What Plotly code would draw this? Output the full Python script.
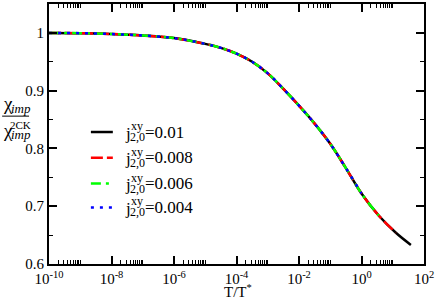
import plotly.graph_objects as go

# data (log10 of T/T*, chi_imp / chi_imp^2CK)
log_t = [-10, -9, -8, -7, -6, -5, -4.5, -4, -3.5, -3, -2.5, -2, -1.5, -1, -0.5, 0, 0.55, 1.1, 1.58]
chi_ratio = [1.000, 0.9995, 0.998, 0.9955, 0.991, 0.981, 0.974, 0.964, 0.950, 0.930,
             0.903, 0.874, 0.843, 0.808, 0.766, 0.722, 0.684, 0.654, 0.633]
couplings = ["0.01", "0.008", "0.006", "0.004"]
last_log_t = [1.58, 1.1, 0.55, 0]   # each run stops at a different T/T*

x_major = [1e-10, 1e-8, 1e-6, 1e-4, 1e-2, 1e0, 1e2]
x_labels = ["10<sup>-10</sup>", "10<sup>-8</sup>", "10<sup>-6</sup>", "10<sup>-4</sup>",
            "10<sup>-2</sup>", "10<sup>0</sup>", "10<sup>2</sup>"]
y_major = [0.6, 0.7, 0.8, 0.9, 1.0]
y_labels = ["0.6", "0.7", "0.8", "0.9", "1"]

colors = ["#000000", "#ff0000", "#00ff00", "#0000ff"]
dashes = ["solid", "12px,4px", "10px,5px,3px,5px", "3px,6px"]

W, H = 436, 300
L, R, T, B = 49, 11, 2, 36
PW, PH = W - L - R, H - T - B
SERIF = "Liberation Serif"


def px(x):
    return (x - L) / PW


def py(y):
    return (H - B - y) / PH


def txt(x, y, s, size, anchor="center"):
    return dict(x=px(x), y=py(y), xref="paper", yref="paper", text=s, showarrow=False,
                xanchor=anchor, yanchor="middle",
                font=dict(family=SERIF, size=size, color="black"))


fig = go.Figure()
for c, lt_end, col, dash in zip(couplings, last_log_t, colors, dashes):
    xs = [10 ** v for v in log_t if v <= lt_end]
    ys = [chi_ratio[i] for i, v in enumerate(log_t) if v <= lt_end]
    fig.add_trace(go.Scatter(x=xs, y=ys, mode="lines", name=c, showlegend=False,
                             line=dict(color=col, width=2.5, dash=dash,
                                       shape="spline", smoothing=1.0)))

# minor ticks: 2..10 x 10^even
x_minor = [m * 10 ** e for e in range(-10, 2, 2) for m in range(2, 11)]

axis_common = dict(showline=True, linecolor="black", linewidth=2, mirror="ticks",
                   ticks="inside", ticklen=8, tickwidth=1.5, tickcolor="black",
                   showgrid=False, zeroline=False,
                   tickfont=dict(family=SERIF, size=15, color="black"))

fig.update_xaxes(type="log", range=[-10, 2], tickmode="array", tickvals=x_major,
                 ticktext=x_labels,
                 minor=dict(tickmode="array", tickvals=x_minor, ticks="inside",
                            ticklen=4, tickwidth=1, tickcolor="black", showgrid=False),
                 **axis_common)
fig.update_yaxes(range=[0.6, 1.05], tickmode="array", tickvals=y_major, ticktext=y_labels,
                 minor=dict(tickmode="array", tickvals=[0.65, 0.75, 0.85, 0.95],
                            ticks="inside", ticklen=4, tickwidth=1, tickcolor="black",
                            showgrid=False),
                 **axis_common)

ann = []
shapes = []

# x title
ann.append(txt(239, 291, "T/T<sup>*</sup>", 15))

# y title as a stacked fraction
ann.append(txt(8, 102, "χ", 19))
ann.append(txt(21, 107, "<i>imp</i>", 13))
shapes.append(dict(type="line", xref="paper", yref="paper", x0=px(2), x1=px(29),
                   y0=py(115), y1=py(115), line=dict(color="black", width=1)))
ann.append(txt(8, 129, "χ", 19))
ann.append(txt(20, 124, "2CK", 11))
ann.append(txt(21, 133, "<i>imp</i>", 13))

# hand-built legend
rows = [131, 157, 183, 207]
for c, col, dash, ry in zip(couplings, colors, dashes, rows):
    shapes.append(dict(type="line", xref="paper", yref="paper", x0=px(91), x1=px(113),
                       y0=py(ry), y1=py(ry), line=dict(color=col, width=2.5, dash=dash)))
    ann.append(txt(128, ry + 1, "j", 17))
    ann.append(txt(129, ry - 6, "xy", 12, "left"))
    ann.append(txt(128, ry + 5, "2,0", 12, "left"))
    ann.append(txt(143, ry, "=" + c, 17, "left"))

fig.update_layout(width=W, height=H, autosize=False,
                  margin=dict(l=L, r=R, t=T, b=B),
                  paper_bgcolor="white", plot_bgcolor="white",
                  font=dict(family=SERIF, color="black"),
                  annotations=ann, shapes=shapes, showlegend=False)

# drop the browser's default body margin so the figure sits at the page origin
fig.write_html("out.html", config={"displayModeBar": False},
               post_script="document.body.style.margin='0';")
